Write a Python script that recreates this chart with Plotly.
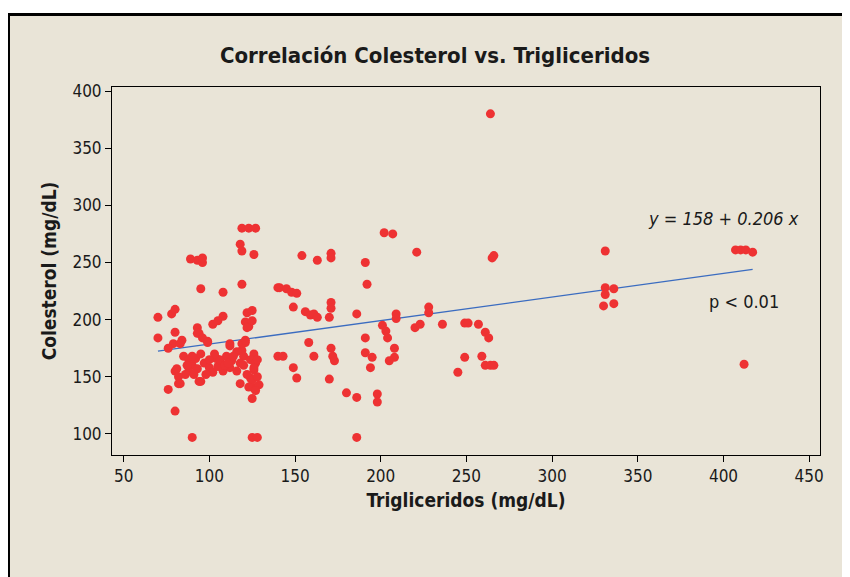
import plotly.graph_objects as go

# Data
trigliceridos = [
    119, 123, 127, 118, 119, 126, 89, 93, 96, 96,
    95, 108, 119, 140, 70, 78, 80, 93, 94, 102,
    108, 105, 122, 125, 121, 123, 125, 122, 70, 80,
    79, 76, 99, 112, 121, 119, 126, 140, 80, 82,
    76, 95, 118, 124, 126, 125, 80, 90, 125, 128,
    84, 83, 93, 96, 99, 112, 119, 121, 116, 120,
    124, 127, 118, 126, 85, 88, 90, 92, 95, 97,
    100, 102, 88, 93, 86, 98, 104, 107, 110, 112,
    108, 105, 113, 81, 82, 83, 94, 120, 122, 125,
    128, 129, 123, 127, 126, 128,
    106, 109, 111, 114, 116, 103, 100, 90, 87, 91,
    202, 207, 154, 163, 171, 171, 191, 221, 265, 266,
    192, 141, 145, 148, 151, 149, 156, 159, 161, 163,
    171, 171, 170, 186, 209, 209, 228, 228, 201, 203,
    204, 220, 223, 236, 249, 251, 257, 261, 263, 158,
    191, 143, 161, 171, 172, 173, 191, 195, 194, 208,
    208, 205, 149, 151, 249, 259, 261, 264, 266, 245,
    170, 180, 186, 198, 198, 186, 264,
    331, 331, 336, 331, 330, 336, 407, 410, 413, 417, 412,
]
colesterol = [
    280, 280, 280, 266, 260, 257, 253, 252, 250, 254,
    227, 224, 231, 228, 202, 205, 209, 193, 188, 196,
    203, 199, 206, 208, 198, 194, 199, 193, 184, 189,
    179, 175, 181, 179, 180, 173, 170, 168, 155, 144,
    139, 146, 144, 149, 140, 131, 120, 97, 97, 97,
    182, 179, 188, 184, 180, 177, 179, 182, 172, 168,
    165, 162, 162, 156, 168, 165, 160, 166, 170, 162,
    158, 154, 155, 157, 152, 152, 166, 162, 168, 158,
    155, 159, 164, 157, 150, 144, 146, 160, 152, 147,
    150, 143, 141, 138, 158, 165,
    165, 160, 162, 168, 155, 170, 165, 168, 160, 152,
    276, 275, 256, 252, 258, 254, 250, 259, 254, 256,
    231, 228, 227, 224, 223, 211, 207, 204, 205, 202,
    215, 210, 202, 205, 205, 201, 211, 206, 195, 190,
    184, 193, 196, 196, 197, 197, 196, 189, 184, 180,
    184, 168, 168, 175, 168, 164, 171, 167, 158, 175,
    167, 164, 158, 149, 167, 168, 160, 160, 160, 154,
    148, 136, 132, 135, 128, 97, 380,
    260, 228, 227, 222, 212, 214, 261, 261, 261, 259, 161,
]

intercept = 158
slope = 0.206
eq_text = "y = 158 + 0.206 x"
p_text = "p < 0.01"

title = "Correlación Colesterol vs. Trigliceridos"
x_title = "Trigliceridos (mg/dL)"
y_title = "Colesterol (mg/dL)"
x_ticks = [50, 100, 150, 200, 250, 300, 350, 400, 450]
y_ticks = [100, 150, 200, 250, 300, 350, 400]

FONT = "DejaVu Sans Condensed, DejaVu Sans, sans-serif"
W, H = 842, 569  # page body has an 8px margin

xmin, xmax = min(trigliceridos), max(trigliceridos)
line_x = [xmin, xmax]
line_y = [intercept + slope * v for v in line_x]

fig = go.Figure()
fig.add_trace(go.Scatter(
    x=line_x, y=line_y, mode="lines",
    line=dict(color="#3B6CC0", width=1.3),
    hoverinfo="skip", showlegend=False,
))
fig.add_trace(go.Scatter(
    x=trigliceridos, y=colesterol, mode="markers",
    marker=dict(color="#EE3233", size=9, line=dict(width=0)),
    showlegend=False,
))

fig.add_annotation(x=0.863, y=0.644, xref="paper", yref="paper",
                   text=eq_text, showarrow=False,
                   font=dict(family=FONT, size=18, color="#1a1a1a", style="italic"),
                   xanchor="center", yanchor="middle")
fig.add_annotation(x=0.893, y=0.416, xref="paper", yref="paper",
                   text=p_text, showarrow=False,
                   font=dict(family=FONT, size=18, color="#1a1a1a"),
                   xanchor="center", yanchor="middle")

# beige outer frame with black border
fig.add_shape(type="rect", xref="paper", yref="paper",
              x0=-0.1462, x1=1.07, y0=-0.4, y1=1.197,
              fillcolor="#E9E4D7", line=dict(color="black", width=3),
              layer="below")

fig.update_layout(
    width=W, height=H,
    paper_bgcolor="white",
    plot_bgcolor="white",
    margin=dict(l=104, r=30, t=79, b=122),
    title=dict(text="<b>" + title + "</b>", x=(435 - 8) / W, xanchor="center",
               y=1 - (55 - 8) / H, yanchor="middle",
               font=dict(family=FONT, size=22, color="#1a1a1a")),
    font=dict(family=FONT, color="#1a1a1a"),
)
fig.update_xaxes(
    range=[43.2, 456.3], tickvals=x_ticks, ticks="outside", ticklen=6,
    tickcolor="black", showgrid=False, zeroline=False,
    showline=True, linecolor="black", linewidth=1, mirror=True,
    tickfont=dict(family=FONT, size=17, color="#1a1a1a"),
    title=dict(text="<b>" + x_title + "</b>", standoff=8,
               font=dict(family=FONT, size=19, color="#1a1a1a")),
)
fig.update_yaxes(
    range=[81.6, 403.5], tickvals=y_ticks, ticks="outside", ticklen=6,
    tickcolor="black", showgrid=False, zeroline=False,
    showline=True, linecolor="black", linewidth=1, mirror=True,
    tickfont=dict(family=FONT, size=17, color="#1a1a1a"),
    title=dict(text="<b>" + y_title + "</b>", standoff=10,
               font=dict(family=FONT, size=19, color="#1a1a1a")),
)

fig.write_html("out.html")
